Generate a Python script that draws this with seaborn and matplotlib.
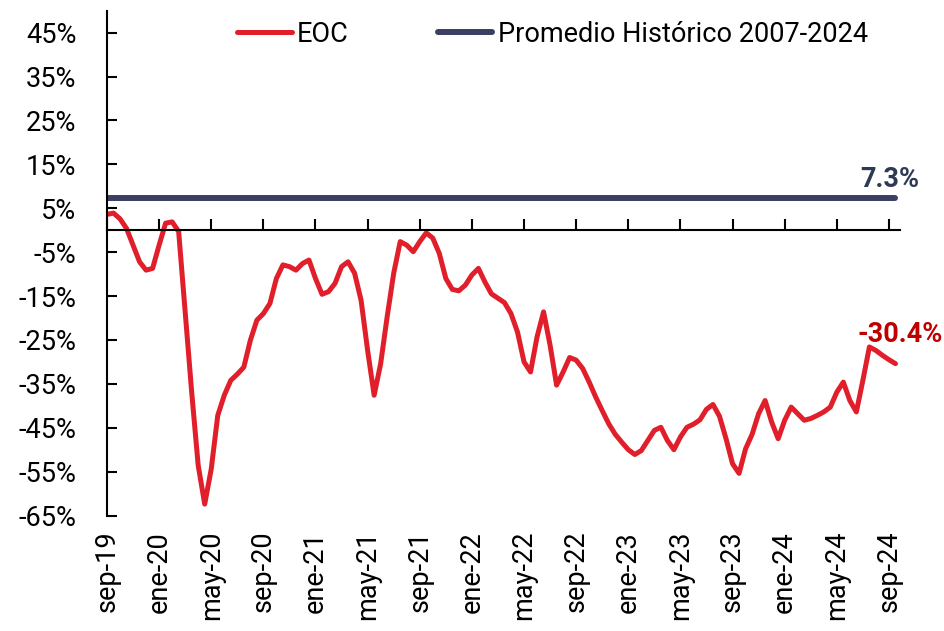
import numpy as np
import matplotlib
matplotlib.use('Agg')
import matplotlib.pyplot as plt
from matplotlib import font_manager
import seaborn as sns

# EOC, valores leídos cada medio mes (sep-19 .. sep-24)
eoc = [3.6, 3.9, 2.6, 0.4, -3.4, -7.2, -9.1, -8.7, -3.4, 1.6,
       1.9, -0.3, -18.6, -36.9, -53.6, -62.4, -54.4, -42.2, -37.6, -34.2,
       -32.8, -31.2, -25.1, -20.5, -19.0, -16.7, -11.0, -7.9, -8.3, -9.1,
       -7.6, -6.8, -11.0, -14.6, -14.0, -12.1, -8.3, -7.2, -9.8, -16.0,
       -27.4, -37.6, -30.4, -19.7, -9.8, -2.6, -3.4, -4.9, -2.6, -0.6,
       -1.8, -5.3, -11.0, -13.5, -13.8, -12.5, -10.2, -8.7, -11.8, -14.5,
       -15.5, -16.5, -19.0, -23.2, -30.0, -32.3, -24.3, -18.6, -26.2, -35.3,
       -32.3, -29.0, -29.6, -31.5, -34.6, -38.0, -41.1, -44.1, -46.5, -48.3,
       -50.0, -51.1, -50.2, -47.9, -45.6, -44.9, -47.9, -50.0, -47.1, -44.9,
       -44.2, -43.2, -40.8, -39.7, -42.4, -47.5, -53.2, -55.4, -49.8, -46.5,
       -41.8, -38.8, -43.7, -47.5, -43.3, -40.3, -41.8, -43.3, -42.9, -42.2,
       -41.4, -40.3, -36.9, -34.6, -38.8, -41.4, -34.2, -26.6, -27.4, -28.5,
       -29.5, -30.4]
hist_avg = 7.3

month_labels = ['sep-19', 'ene-20', 'may-20', 'sep-20', 'ene-21', 'may-21', 'sep-21',
                'ene-22', 'may-22', 'sep-22', 'ene-23', 'may-23', 'sep-23', 'ene-24',
                'may-24', 'sep-24']
y_ticks = list(range(-65, 46, 10))

red = '#E01F2B'
navy = '#3A3F63'

sns.set_style('white')

names = {f.name for f in font_manager.fontManager.ttflist}
font = 'Roboto' if 'Roboto' in names else 'DejaVu Sans'
plt.rcParams['font.family'] = [font, 'DejaVu Sans']
plt.rcParams['text.color'] = 'black'
plt.rcParams['xtick.color'] = 'black'
plt.rcParams['ytick.color'] = 'black'

pos = np.arange(len(eoc)) / 2  # meses desde sep-19
fs = 19.5

fig = plt.figure(figsize=(9.45, 6.31), dpi=100)
ax = fig.add_axes([0.1132, 0.183, 0.8392, 0.8])

sns.lineplot(x=pos, y=eoc, ax=ax, color=red, lw=3.6, label='EOC',
             solid_capstyle='round', solid_joinstyle='round')
sns.lineplot(x=pos, y=np.full(len(pos), hist_avg), ax=ax, color=navy, lw=4.3,
             label='Promedio Histórico 2007-2024', solid_capstyle='round')

ax.set_xlim(0, 60.85)
ax.set_ylim(-65, 50)

ax.spines['right'].set_visible(False)
ax.spines['top'].set_visible(False)
ax.spines['bottom'].set_position(('data', 0))
for s in ['left', 'bottom']:
    ax.spines[s].set_color('black')
    ax.spines[s].set_linewidth(1.5)

ax.set_yticks(y_ticks)
ax.set_yticklabels([f'{v}%' for v in y_ticks])
ax.tick_params(axis='y', direction='in', length=7, width=1.5, pad=22,
               labelsize=fs, left=True)

tick_pos = np.arange(len(month_labels)) * 4
ax.set_xticks(tick_pos)
ax.tick_params(axis='x', direction='in', length=8, width=1.5, labelbottom=False, bottom=True)

sec = ax.secondary_xaxis('bottom')
sec.set_xticks(tick_pos)
sec.set_xticklabels(month_labels, rotation=90)
sec.tick_params(axis='x', length=0, pad=11, labelsize=fs)
sec.spines['bottom'].set_visible(False)

ax.text(pos[-1] + 1.8, hist_avg + 1.2, f'{hist_avg}%', color='#2E3A55',
        fontsize=fs, fontweight='bold', ha='right', va='bottom')
ax.text(pos[-1] + 3.6, eoc[-1] + 3.6, f'{eoc[-1]}%', color='#C00000',
        fontsize=fs, fontweight='bold', ha='right', va='bottom')

ax.legend(loc='upper center', bbox_to_anchor=(0.562, 1.028), ncol=2, frameon=False,
          fontsize=fs, handlelength=2.0, columnspacing=3.3, handletextpad=0.2)
ax.set_xlabel('')
ax.set_ylabel('')

fig.savefig('out.png', dpi=100)
